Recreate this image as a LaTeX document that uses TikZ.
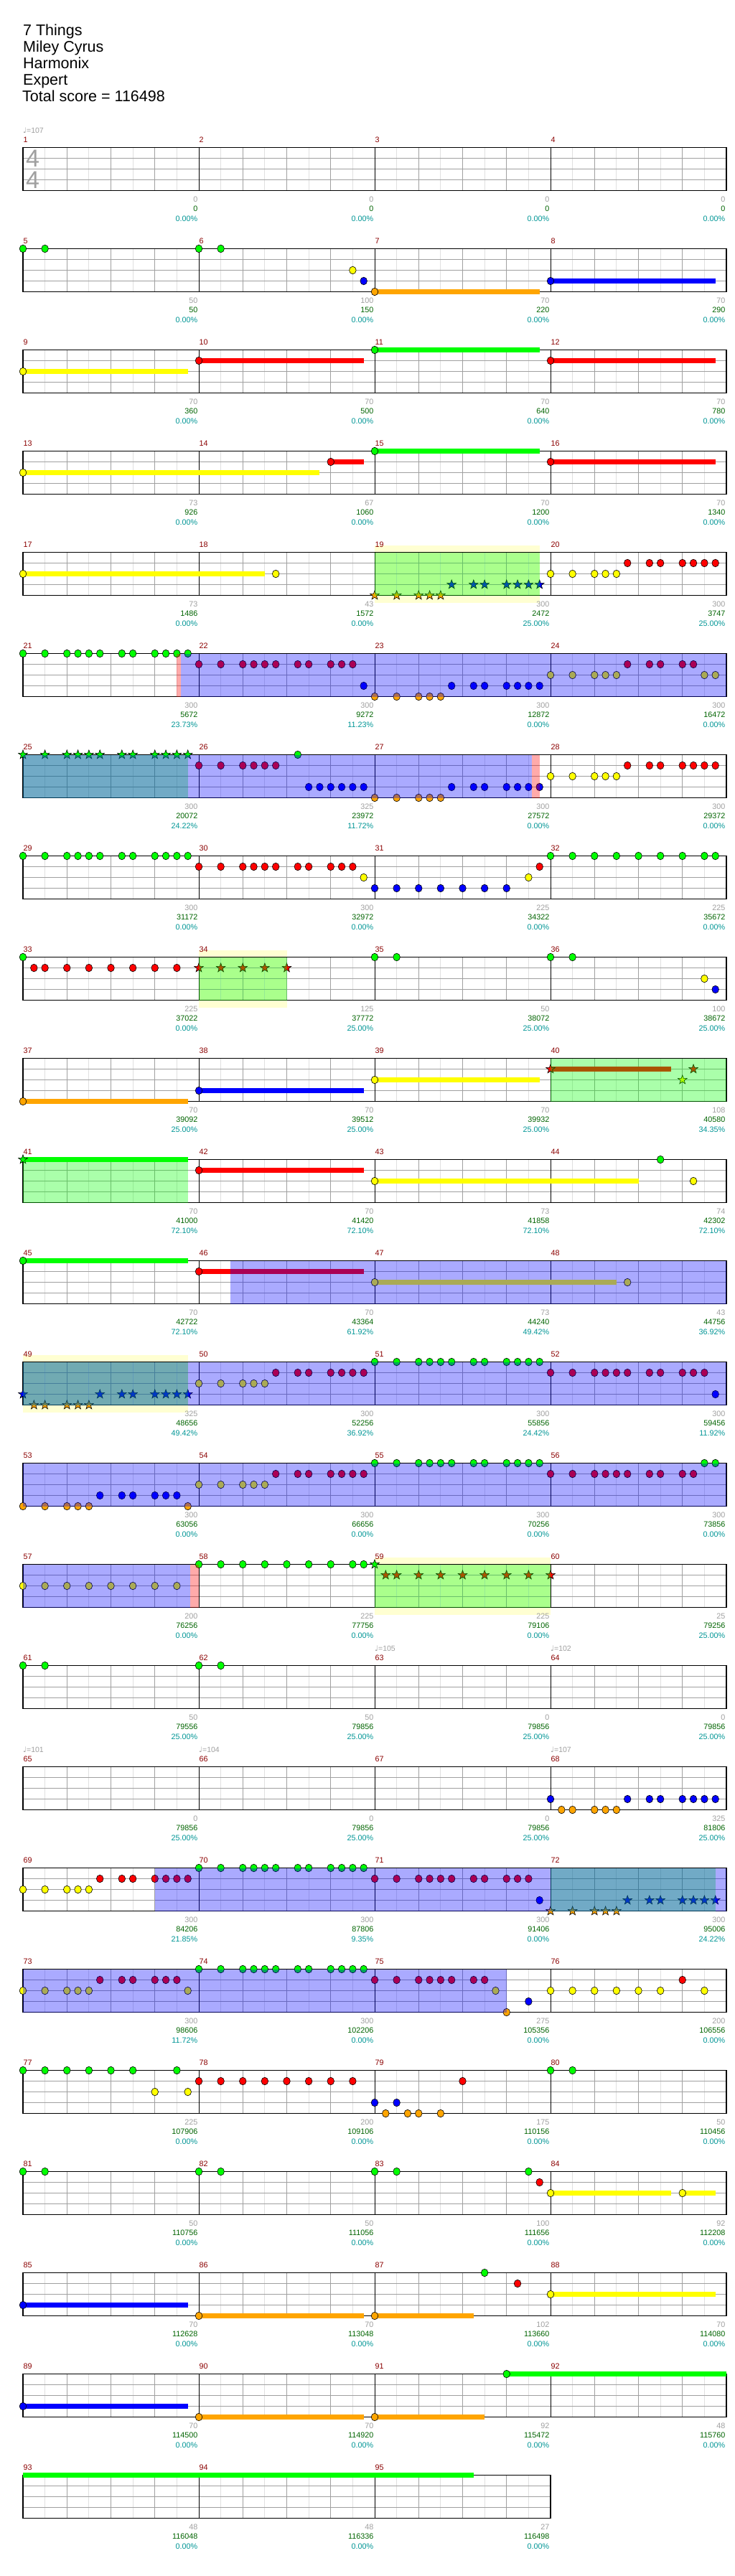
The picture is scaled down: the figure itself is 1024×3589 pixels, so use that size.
\documentclass[tikz,border=0pt]{standalone}
\usepackage{fontspec}
\setmainfont{Liberation Sans}
\newfontfamily\dejavu{DejaVu Sans}
\definecolor{lc0}{RGB}{0,255,0}
\definecolor{lc1}{RGB}{255,0,0}
\definecolor{lc2}{RGB}{255,255,0}
\definecolor{lc3}{RGB}{0,0,255}
\definecolor{lc4}{RGB}{255,165,0}
\definecolor{mnumc}{RGB}{139,0,0}
\definecolor{lgrey}{RGB}{160,160,160}
\definecolor{lgreen}{RGB}{0,100,0}
\definecolor{lteal}{RGB}{0,150,150}
\definecolor{paley}{RGB}{255,255,210}
\definecolor{gridA}{RGB}{160,160,160}
\definecolor{gridB}{RGB}{224,224,224}
\tikzset{
  mnumst/.style={font=\fontsize{10.8}{10.8}\selectfont, text=mnumc, inner sep=0, anchor=base west},
  lbl/.style={font=\fontsize{10.8}{10.8}\selectfont, inner sep=0, anchor=base east},
  hdr/.style={font=\fontsize{21.5}{21.5}\selectfont, inner sep=0, anchor=base west},
  tempo/.style={font=\fontsize{10.5}{10.5}\selectfont, text=lgrey, inner sep=0, anchor=base west},
  tsig/.style={font=\fontsize{34}{34}\selectfont, text=lgrey, inner sep=0},
  notehead/.style={draw=black, line width=0.6},
  ovb/.style={fill=lc3, fill opacity=0.333},
  ovg/.style={fill=lc0, fill opacity=0.333},
  ovr/.style={fill=lc1, fill opacity=0.333},
  halfbeat/.style={draw=gridB, line width=0.8},
  beatline/.style={draw=gridA, line width=0.8},
  laneline/.style={draw=gridA, line width=1.1},
  barline/.style={draw=black, line width=0.8},
  staffborder/.style={draw=black, line width=1.4}
}
\newcommand\ppos[3]{%
  \pgfmathtruncatemacro\Rw{(#1-1)/4}%
  \pgfmathtruncatemacro\Cl{#1-1-4*\Rw}%
  \pgfmathsetmacro\Px{32+245*\Cl+15.3125*(#2)}%
  \pgfmathsetmacro\Py{205.5+141*\Rw+15*(#3)}%
}
\newcommand\pnote[3]{\foreach \q in {#3}{\ppos{#2}{\q}{#1}\filldraw[fill=lc#1,notehead] (\Px,\Py) ellipse[x radius=4.8,y radius=5.3];}}
\newcommand\pstar[3]{\foreach \q in {#3}{\ppos{#2}{\q}{#1}\filldraw[fill=lc#1,notehead] (\Px,\Py) +(-90:6.6) -- +(-54:2.7) -- +(-18:6.6) -- +(18:2.7) -- +(54:6.6) -- +(90:2.7) -- +(126:6.6) -- +(162:2.7) -- +(198:6.6) -- +(234:2.7) -- cycle;}}
\newcommand\psus[4]{\ppos{#2}{#3}{#1}\let\Xa\Px\ppos{#2}{#4}{#1}\fill[lc#1] (\Xa,\Py-3.3) rectangle (\Px,\Py+3.3);}
\newcommand\povr[4]{\fill[#1] (#3,{205.5+141*#2}) rectangle (#4,{265.5+141*#2});}
\newcommand\ppale[3]{\fill[paley] (#2,{195.5+141*#1}) rectangle (#3,{275.5+141*#1});}
\begin{document}
\begin{tikzpicture}[x=1pt,y=-1pt]
\useasboundingbox (0,0) rectangle (1024,3589);
\fill[white] (0,0) rectangle (1024,3589);
% header
\node[hdr] (title) at (32,49.3) {7 Things};
\node[hdr] (artist) at (32,72.3) {Miley Cyrus};
\node[hdr] (author) at (32,95.3) {Harmonix};
\node[hdr] (diff) at (32,118.3) {Expert};
\node[hdr] (total) at (31,141.3) {Total score = 116498};
% pale yellow phrase extents
\ppale{4}{522}{751.7}
\ppale{8}{277}{399.5}
\ppale{12}{32}{261.7}
\ppale{14}{522}{767}
% staves
\foreach \r in {0,...,23}{
  \pgfmathsetmacro\Yt{205.5+141*\r}
  \ifnum\r=23 \def\Nm{3}\else\def\Nm{4}\fi
  \pgfmathtruncatemacro\Nh{8*\Nm-1}
  \pgfmathtruncatemacro\Nb{4*\Nm-1}
  \pgfmathtruncatemacro\Nmm{\Nm-1}
  \pgfmathsetmacro\Xr{32+245*\Nm}
  \foreach \k in {1,...,\Nh}{\draw[halfbeat] ({32+30.625*\k},\Yt) -- ++(0,60);}
  \foreach \k in {1,...,\Nb}{\draw[beatline] ({32+61.25*\k},\Yt) -- ++(0,60);}
  \foreach \k in {1,2,3}{\draw[laneline] (32,\Yt+15*\k) -- (\Xr,\Yt+15*\k);}
  \foreach \k in {1,...,\Nmm}{\draw[barline] ({32+245*\k},\Yt) -- ++(0,60);}
  \draw[staffborder] (32,\Yt) rectangle (\Xr,\Yt+60);
}
% time signature and tempo marks
\node[tsig] (tsa) at (45.5,220.7) {4};
\node[tsig] (tsb) at (45.5,250.7) {4};
\node[tempo] (tp1) at (32,185.5) {{\dejavu ♩}=107};
\node[tempo] (tp63) at (522,2300.5) {{\dejavu ♩}=105};
\node[tempo] (tp64) at (767,2300.5) {{\dejavu ♩}=102};
\node[tempo] (tp65) at (32,2441.5) {{\dejavu ♩}=101};
\node[tempo] (tp66) at (277,2441.5) {{\dejavu ♩}=104};
\node[tempo] (tp68) at (767,2441.5) {{\dejavu ♩}=107};
% labels
\foreach \vm/\va/\vb/\vc in {1/0/0/0.00,2/0/0/0.00,3/0/0/0.00,4/0/0/0.00,
5/50/50/0.00,6/100/150/0.00,7/70/220/0.00,8/70/290/0.00,
9/70/360/0.00,10/70/500/0.00,11/70/640/0.00,12/70/780/0.00,
13/73/926/0.00,14/67/1060/0.00,15/70/1200/0.00,16/70/1340/0.00,
17/73/1486/0.00,18/43/1572/0.00,19/300/2472/25.00,20/300/3747/25.00,
21/300/5672/23.73,22/300/9272/11.23,23/300/12872/0.00,24/300/16472/0.00,
25/300/20072/24.22,26/325/23972/11.72,27/300/27572/0.00,28/300/29372/0.00,
29/300/31172/0.00,30/300/32972/0.00,31/225/34322/0.00,32/225/35672/0.00,
33/225/37022/0.00,34/125/37772/25.00,35/50/38072/25.00,36/100/38672/25.00,
37/70/39092/25.00,38/70/39512/25.00,39/70/39932/25.00,40/108/40580/34.35,
41/70/41000/72.10,42/70/41420/72.10,43/73/41858/72.10,44/74/42302/72.10,
45/70/42722/72.10,46/70/43364/61.92,47/73/44240/49.42,48/43/44756/36.92,
49/325/48656/49.42,50/300/52256/36.92,51/300/55856/24.42,52/300/59456/11.92,
53/300/63056/0.00,54/300/66656/0.00,55/300/70256/0.00,56/300/73856/0.00,
57/200/76256/0.00,58/225/77756/0.00,59/225/79106/0.00,60/25/79256/25.00,
61/50/79556/25.00,62/50/79856/25.00,63/0/79856/25.00,64/0/79856/25.00,
65/0/79856/25.00,66/0/79856/25.00,67/0/79856/25.00,68/325/81806/25.00,
69/300/84206/21.85,70/300/87806/9.35,71/300/91406/0.00,72/300/95006/24.22,
73/300/98606/11.72,74/300/102206/0.00,75/275/105356/0.00,76/200/106556/0.00,
77/225/107906/0.00,78/200/109106/0.00,79/175/110156/0.00,80/50/110456/0.00,
81/50/110756/0.00,82/50/111056/0.00,83/100/111656/0.00,84/92/112208/0.00,
85/70/112628/0.00,86/70/113048/0.00,87/102/113660/0.00,88/70/114080/0.00,
89/70/114500/0.00,90/70/114920/0.00,91/92/115472/0.00,92/48/115760/0.00,
93/48/116048/0.00,94/48/116336/0.00,95/27/116498/0.00}{
  \pgfmathtruncatemacro\Rw{(\vm-1)/4}
  \pgfmathtruncatemacro\Cl{\vm-1-4*\Rw}
  \pgfmathsetmacro\Xs{32+245*\Cl}
  \pgfmathsetmacro\Yt{205.5+141*\Rw}
  \node[mnumst] (mn\vm) at (\Xs+0.5,\Yt-7.3) {\vm};
  \node[lbl,text=lgrey] (sa\vm) at (\Xs+243.5,\Yt+76) {\va};
  \node[lbl,text=lgreen] (sb\vm) at (\Xs+243.5,\Yt+89.3) {\vb};
  \node[lbl,text=lteal] (sc\vm) at (\Xs+243.5,\Yt+102.5) {\vc\%};
}
% sustains
\psus{4}{7}{0}{15}
\psus{3}{8}{0}{15}
\psus{2}{9}{0}{15}
\psus{1}{10}{0}{15}
\psus{0}{11}{0}{15}
\psus{1}{12}{0}{15}
\psus{2}{13}{0}{27}
\psus{1}{14}{12}{15}
\psus{0}{15}{0}{15}
\psus{1}{16}{0}{15}
\psus{2}{17}{0}{22}
\psus{4}{37}{0}{15}
\psus{3}{38}{0}{15}
\psus{2}{39}{0}{15}
\psus{1}{40}{0}{11}
\psus{0}{41}{0}{15}
\psus{1}{42}{0}{15}
\psus{2}{43}{0}{24}
\psus{0}{45}{0}{15}
\psus{1}{46}{0}{15}
\psus{2}{47}{0}{22}
\psus{2}{84}{0}{11}
\psus{2}{84}{12}{15}
\psus{3}{85}{0}{15}
\psus{4}{86}{0}{15}
\psus{4}{87}{0}{9}
\psus{2}{88}{0}{15}
\psus{3}{89}{0}{15}
\psus{4}{90}{0}{15}
\psus{4}{91}{0}{10}
\psus{0}{91}{12}{32}
\psus{0}{93}{0}{41}
% notes
\pnote{0}{5}{0,2}
\pnote{0}{6}{0,2}\pnote{2}{6}{14}\pnote{3}{6}{15}
\pnote{4}{7}{0}
\pnote{3}{8}{0}
\pnote{2}{9}{0}
\pnote{1}{10}{0}
\pnote{0}{11}{0}
\pnote{1}{12}{0}
\pnote{2}{13}{0}
\pnote{1}{14}{12}
\pnote{0}{15}{0}
\pnote{1}{16}{0}
\pnote{2}{17}{0}
\pnote{2}{18}{7}
\pstar{4}{19}{0,2,4,5,6}\pstar{3}{19}{7,9,10,12,13,14,15}
\pnote{2}{20}{0,2,4,5,6}\pnote{1}{20}{7,9,10,12,13,14,15}
\pnote{0}{21}{0,2,4,5,6,7,9,10,12,13,14,15}
\pnote{1}{22}{0,2,4,5,6,7,9,10,12,13,14}\pnote{3}{22}{15}
\pnote{4}{23}{0,2,4,5,6}\pnote{3}{23}{7,9,10,12,13,14,15}
\pnote{2}{24}{0,2,4,5,6,14,15}\pnote{1}{24}{7,9,10,12,13}
\pstar{0}{25}{0,2,4,5,6,7,9,10,12,13,14,15}
\pnote{1}{26}{0,2,4,5,6,7}\pnote{0}{26}{9}\pnote{3}{26}{10,11,12,13,14,15}
\pnote{4}{27}{0,2,4,5,6}\pnote{3}{27}{7,9,10,12,13,14,15}
\pnote{2}{28}{0,2,4,5,6}\pnote{1}{28}{7,9,10,12,13,14,15}
\pnote{0}{29}{0,2,4,5,6,7,9,10,12,13,14,15}
\pnote{1}{30}{0,2,4,5,6,7,9,10,12,13,14}\pnote{2}{30}{15}
\pnote{3}{31}{0,2,4,6,8,10,12}\pnote{2}{31}{14}\pnote{1}{31}{15}
\pnote{0}{32}{0,2,4,6,8,10,12,14,15}
\pnote{0}{33}{0}\pnote{1}{33}{1,2,4,6,8,10,12,14}
\pstar{1}{34}{0,2,4,6,8}
\pnote{0}{35}{0,2}
\pnote{0}{36}{0,2}\pnote{2}{36}{14}\pnote{3}{36}{15}
\pnote{4}{37}{0}
\pnote{3}{38}{0}
\pnote{2}{39}{0}
\pstar{1}{40}{0,13}\pstar{2}{40}{12}
\pstar{0}{41}{0}
\pnote{1}{42}{0}
\pnote{2}{43}{0}
\pnote{0}{44}{10}\pnote{2}{44}{13}
\pnote{0}{45}{0}
\pnote{1}{46}{0}
\pnote{2}{47}{0}
\pnote{2}{48}{7}
\pstar{3}{49}{0,7,9,10,12,13,14,15}\pstar{4}{49}{1,2,4,5,6}
\pnote{2}{50}{0,2,4,5,6}\pnote{1}{50}{7,9,10,12,13,14,15}
\pnote{0}{51}{0,2,4,5,6,7,9,10,12,13,14,15}
\pnote{1}{52}{0,2,4,5,6,7,9,10,12,13,14}\pnote{3}{52}{15}
\pnote{4}{53}{0,2,4,5,6,15}\pnote{3}{53}{7,9,10,12,13,14}
\pnote{2}{54}{0,2,4,5,6}\pnote{1}{54}{7,9,10,12,13,14,15}
\pnote{0}{55}{0,2,4,5,6,7,9,10,12,13,14,15}
\pnote{1}{56}{0,2,4,5,6,7,9,10,12,13}\pnote{0}{56}{14,15}
\pnote{2}{57}{0,2,4,6,8,10,12,14}
\pnote{0}{58}{0,2,4,6,8,10,12,14,15}
\pstar{0}{59}{0}\pstar{1}{59}{1,2,4,6,8,10,12,14}
\pstar{1}{60}{0}
\pnote{0}{61}{0,2}
\pnote{0}{62}{0,2}
\pnote{3}{68}{0,7,9,10,12,13,14,15}\pnote{4}{68}{1,2,4,5,6}
\pnote{2}{69}{0,2,4,5,6}\pnote{1}{69}{7,9,10,12,13,14,15}
\pnote{0}{70}{0,2,4,5,6,7,9,10,12,13,14,15}
\pnote{1}{71}{0,2,4,5,6,7,9,10,12,13,14}\pnote{3}{71}{15}
\pstar{4}{72}{0,2,4,5,6}\pstar{3}{72}{7,9,10,12,13,14,15}
\pnote{2}{73}{0,2,4,5,6,15}\pnote{1}{73}{7,9,10,12,13,14}
\pnote{0}{74}{0,2,4,5,6,7,9,10,12,13,14,15}
\pnote{1}{75}{0,2,4,5,6,7,9,10}\pnote{2}{75}{11}\pnote{4}{75}{12}\pnote{3}{75}{14}
\pnote{2}{76}{0,2,4,6,8,10,14}\pnote{1}{76}{12}
\pnote{0}{77}{0,2,4,6,8,10,14}\pnote{2}{77}{12,15}
\pnote{1}{78}{0,2,4,6,8,10,12,14}
\pnote{3}{79}{0,2}\pnote{4}{79}{1,3,4,6}\pnote{1}{79}{8}
\pnote{0}{80}{0,2}
\pnote{0}{81}{0,2}
\pnote{0}{82}{0,2}
\pnote{0}{83}{0,2,14}\pnote{1}{83}{15}
\pnote{2}{84}{0,12}
\pnote{3}{85}{0}
\pnote{4}{86}{0}
\pnote{4}{87}{0}\pnote{0}{87}{10}\pnote{1}{87}{13}
\pnote{2}{88}{0}
\pnote{3}{89}{0}
\pnote{4}{90}{0}
\pnote{4}{91}{0}\pnote{0}{91}{12}
% star power overlays
\povr{ovg}{4}{522}{751.7}
\povr{ovg}{6}{32}{261.7}
\povr{ovg}{8}{277}{399.5}
\povr{ovg}{9}{767}{1012}
\povr{ovg}{10}{32}{261.7}
\povr{ovg}{12}{32}{261.7}
\povr{ovg}{14}{522}{767}
\povr{ovg}{17}{767}{996.7}
\povr{ovb}{5}{252}{1012}
\povr{ovb}{6}{32}{741.3}
\povr{ovb}{11}{321.3}{1012}
\povr{ovb}{12}{32}{1012}
\povr{ovb}{13}{32}{1012}
\povr{ovb}{14}{32}{265.3}
\povr{ovb}{17}{215.75}{1012}
\povr{ovb}{18}{32}{705.75}
\povr{ovr}{5}{246.4}{252}
\povr{ovr}{6}{741.3}{751.7}
\povr{ovr}{14}{265.3}{277}
\end{tikzpicture}
\end{document}
